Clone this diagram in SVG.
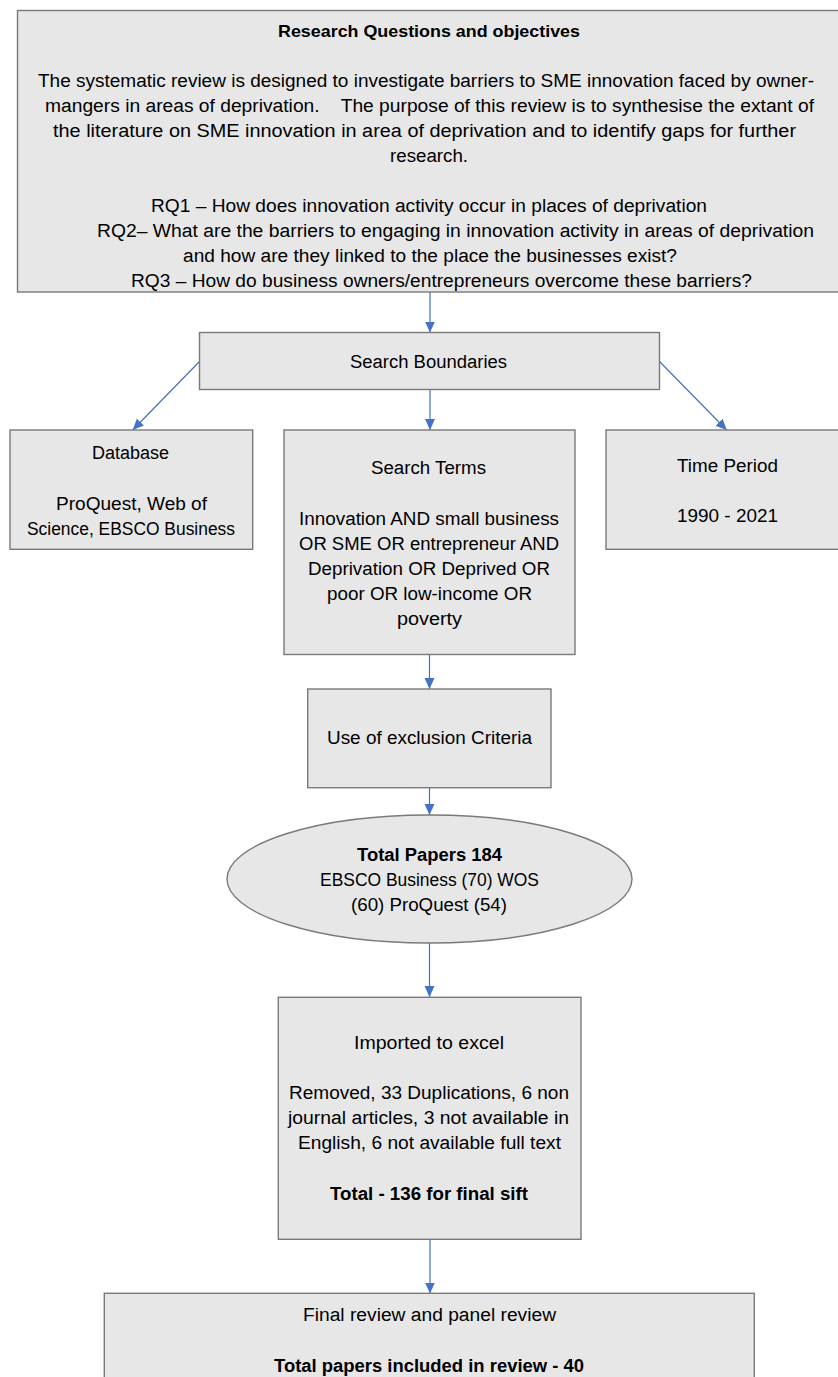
<svg xmlns="http://www.w3.org/2000/svg" width="838" height="1377" viewBox="0 0 838 1377">
<style>
.box{fill:#e7e7e7;stroke:#7a7a7a;stroke-width:1.4}
.t{font-family:"Liberation Sans",Arial,sans-serif;font-size:18px;fill:#000}
.b{font-family:"Liberation Sans",Arial,sans-serif;font-size:18px;font-weight:bold;fill:#000}
.h{font-family:"Liberation Sans",Arial,sans-serif;font-size:16.5px;font-weight:bold;fill:#000}
.c{stroke:#4472c4;stroke-width:1.2;fill:none;marker-end:url(#ah)}
</style>
<defs>
<marker id="ah" markerUnits="userSpaceOnUse" markerWidth="12" markerHeight="11" refX="11" refY="5" orient="auto">
<path d="M0,0 L11,5 L0,10 z" fill="#4472c4"/>
</marker>
</defs>
<rect width="838" height="1377" fill="#fff"/>
<g id="connectors">
<line class="c" x1="430" y1="292" x2="430" y2="332.5"/>
<line class="c" x1="430" y1="389.5" x2="430" y2="430"/>
<line class="c" x1="199.5" y1="361.5" x2="132.7" y2="430"/>
<line class="c" x1="659.5" y1="361.5" x2="726.7" y2="430"/>
<line class="c" x1="429.5" y1="654.5" x2="429.5" y2="689"/>
<line class="c" x1="429.5" y1="788" x2="429.5" y2="815"/>
<line class="c" x1="429.5" y1="943" x2="429.5" y2="997"/>
<line class="c" x1="430" y1="1239.5" x2="430" y2="1293.5"/>
</g>
<g id="research-questions">
<rect class="box" x="17.5" y="10.5" width="830" height="281.5"/>
<text class="h" x="278" y="36.5" textLength="302" lengthAdjust="spacingAndGlyphs">Research Questions and objectives</text>
<text class="t" x="38" y="86.5" textLength="776" lengthAdjust="spacingAndGlyphs">The systematic review is designed to investigate barriers to SME innovation faced by owner-</text>
<text class="t" x="45" y="111.5" textLength="769" lengthAdjust="spacingAndGlyphs">mangers in areas of deprivation.&#160;&#160;&#160; The purpose of this review is to synthesise the extant of</text>
<text class="t" x="53" y="136.5" textLength="743" lengthAdjust="spacingAndGlyphs">the literature on SME innovation in area of deprivation and to identify gaps for further</text>
<text class="t" x="390" y="161.5" textLength="78" lengthAdjust="spacingAndGlyphs">research.</text>
<text class="t" x="151" y="211.5" textLength="556" lengthAdjust="spacingAndGlyphs">RQ1 – How does innovation activity occur in places of deprivation</text>
<text class="t" x="97" y="236.5" textLength="717" lengthAdjust="spacingAndGlyphs">RQ2– What are the barriers to engaging in innovation activity in areas of deprivation</text>
<text class="t" x="183" y="261.5" textLength="494" lengthAdjust="spacingAndGlyphs">and how are they linked to the place the businesses exist?</text>
<text class="t" x="131" y="286.5" textLength="621" lengthAdjust="spacingAndGlyphs">RQ3 – How do business owners/entrepreneurs overcome these barriers?</text>
</g>
<g id="search-boundaries">
<rect class="box" x="199.5" y="332.5" width="460" height="57"/>
<text class="t" x="350" y="367.5" textLength="157" lengthAdjust="spacingAndGlyphs">Search Boundaries</text>
</g>
<g id="database">
<rect class="box" x="10" y="430" width="242.7" height="119.3"/>
<text class="t" x="92" y="459" textLength="77" lengthAdjust="spacingAndGlyphs">Database</text>
<text class="t" x="56" y="510" textLength="151" lengthAdjust="spacingAndGlyphs">ProQuest, Web of</text>
<text class="t" x="27" y="535" textLength="208" lengthAdjust="spacingAndGlyphs">Science, EBSCO Business</text>
</g>
<g id="search-terms">
<rect class="box" x="284" y="430" width="291" height="224.5"/>
<text class="t" x="371" y="474" textLength="115" lengthAdjust="spacingAndGlyphs">Search Terms</text>
<text class="t" x="299" y="525" textLength="260" lengthAdjust="spacingAndGlyphs">Innovation AND small business</text>
<text class="t" x="299" y="550" textLength="260" lengthAdjust="spacingAndGlyphs">OR SME OR entrepreneur AND</text>
<text class="t" x="308" y="575" textLength="242" lengthAdjust="spacingAndGlyphs">Deprivation OR Deprived OR</text>
<text class="t" x="327" y="600" textLength="205" lengthAdjust="spacingAndGlyphs">poor OR low-income OR</text>
<text class="t" x="397" y="625" textLength="65" lengthAdjust="spacingAndGlyphs">poverty</text>
</g>
<g id="time-period">
<rect class="box" x="606" y="430" width="240" height="119.3"/>
<text class="t" x="677" y="472" textLength="101" lengthAdjust="spacingAndGlyphs">Time Period</text>
<text class="t" x="677" y="522" textLength="101" lengthAdjust="spacingAndGlyphs">1990 - 2021</text>
</g>
<g id="exclusion">
<rect class="box" x="307.7" y="689" width="243.3" height="98.7"/>
<text class="t" x="327" y="744" textLength="205" lengthAdjust="spacingAndGlyphs">Use of exclusion Criteria</text>
</g>
<g id="total-papers">
<ellipse class="box" cx="429.5" cy="879" rx="202.5" ry="64"/>
<text class="b" x="357" y="861" textLength="145" lengthAdjust="spacingAndGlyphs">Total Papers 184</text>
<text class="t" x="320" y="886" textLength="219" lengthAdjust="spacingAndGlyphs">EBSCO Business (70) WOS</text>
<text class="t" x="351" y="911" textLength="156" lengthAdjust="spacingAndGlyphs">(60) ProQuest (54)</text>
</g>
<g id="imported">
<rect class="box" x="278.3" y="997.3" width="302.7" height="242"/>
<text class="t" x="354" y="1049" textLength="150" lengthAdjust="spacingAndGlyphs">Imported to excel</text>
<text class="t" x="289" y="1099" textLength="280" lengthAdjust="spacingAndGlyphs">Removed, 33 Duplications, 6 non</text>
<text class="t" x="288" y="1124" textLength="281" lengthAdjust="spacingAndGlyphs">journal articles, 3 not available in</text>
<text class="t" x="298" y="1149" textLength="263" lengthAdjust="spacingAndGlyphs">English, 6 not available full text</text>
<text class="b" x="330" y="1200" textLength="198" lengthAdjust="spacingAndGlyphs">Total - 136 for final sift</text>
</g>
<g id="final-review">
<rect class="box" x="104.3" y="1293.3" width="650" height="100"/>
<text class="t" x="303" y="1321" textLength="253" lengthAdjust="spacingAndGlyphs">Final review and panel review</text>
<text class="b" x="274" y="1372" textLength="310" lengthAdjust="spacingAndGlyphs">Total papers included in review - 40</text>
</g>
</svg>
